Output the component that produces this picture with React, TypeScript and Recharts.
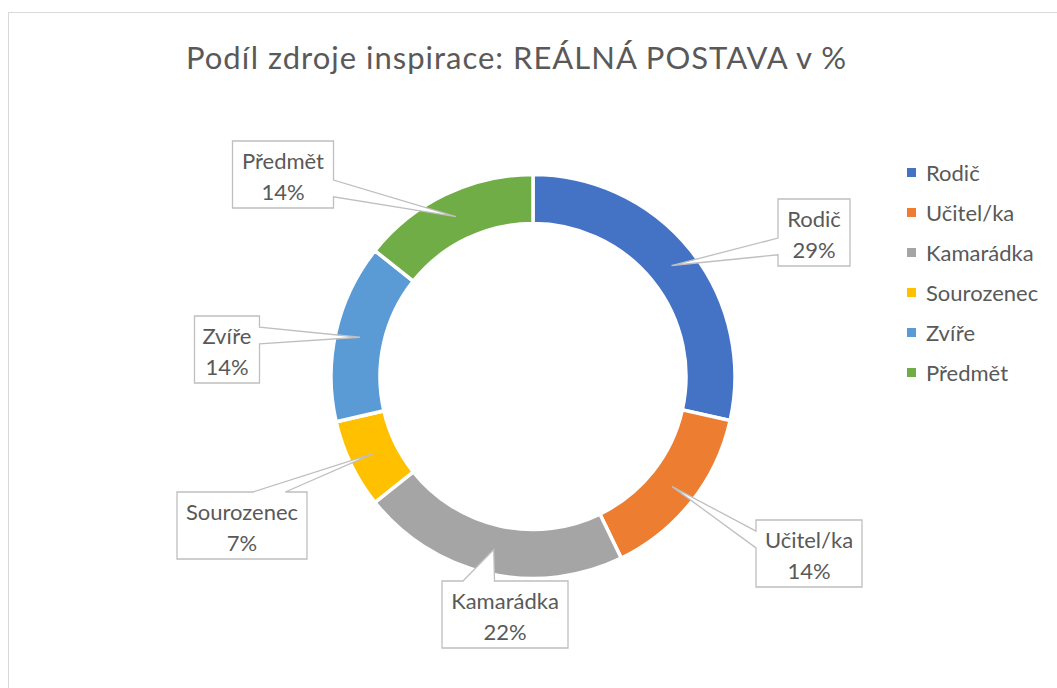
import { PieChart, Pie, Cell, Legend } from 'recharts';

const categories = ['Rodič', 'Učitel/ka', 'Kamarádka', 'Sourozenec', 'Zvíře', 'Předmět'];
const shares = [28.5, 14.3, 21.5, 7.1, 14.3, 14.3];
const colors = ['#4472C4', '#ED7D31', '#A5A5A5', '#FFC000', '#5B9BD5', '#70AD47'];

// callout box placement, relative to the pie centre
const calloutDx = [281, 276, -28, -291, -306, -250];
const calloutDy = [-144, 177, 238, 149, -27, -202];
const calloutW = [72, 106, 126, 130, 65, 101];
const CALLOUT_H = 67;

const FONT = 'Lato, sans-serif';
const TEXT = '#595959';

const data = categories.map((name, i) => ({ name, value: shares[i] }));

// eslint-disable-next-line @typescript-eslint/no-explicit-any
function CalloutLabel(props: any) {
  const { cx, cy, midAngle, innerRadius, outerRadius, index } = props;
  const RAD = Math.PI / 180;
  const r = (innerRadius + outerRadius) / 2;
  const px = cx + r * Math.cos(-midAngle * RAD);
  const py = cy + r * Math.sin(-midAngle * RAD);
  const w = calloutW[index];
  const h = CALLOUT_H;
  const bx = cx + calloutDx[index];
  const by = cy + calloutDy[index];
  const l = bx - w / 2;
  const t = by - h / 2;
  const rr = bx + w / 2;
  const b = by + h / 2;
  const dx = px - bx;
  const dy = py - by;
  const vertical = Math.abs(dy) > Math.abs((dx * h) / w);
  let d: string;
  if (vertical) {
    const x1 = l + (w * (dx > 0 ? 7 : 2)) / 12;
    const x2 = l + (w * (dx > 0 ? 10 : 5)) / 12;
    if (dy < 0) {
      d = `M${l},${t} L${x1},${t} L${px},${py} L${x2},${t} L${rr},${t} L${rr},${b} L${l},${b} Z`;
    } else {
      d = `M${l},${t} L${rr},${t} L${rr},${b} L${x2},${b} L${px},${py} L${x1},${b} L${l},${b} Z`;
    }
  } else {
    const y1 = t + (h * (dy > 0 ? 7 : 2)) / 12;
    const y2 = t + (h * (dy > 0 ? 10 : 5)) / 12;
    if (dx < 0) {
      d = `M${l},${t} L${rr},${t} L${rr},${b} L${l},${b} L${l},${y2} L${px},${py} L${l},${y1} Z`;
    } else {
      d = `M${l},${t} L${rr},${t} L${rr},${y1} L${px},${py} L${rr},${y2} L${rr},${b} L${l},${b} Z`;
    }
  }
  return (
    <g>
      <path d={d} fill="#fff" stroke="#BFBFBF" strokeWidth={1.3} />
      <text x={bx} y={t + 28} textAnchor="middle" fontFamily={FONT} fontSize={22} fill={TEXT}>
        {categories[index]}
      </text>
      <text x={bx} y={t + 59} textAnchor="middle" fontFamily={FONT} fontSize={22} fill={TEXT}>
        {Math.round(shares[index]) + '%'}
      </text>
    </g>
  );
}

function LegendList() {
  return (
    <div>
      {categories.map((name, i) => (
        <div key={name} style={{ height: 40, display: 'flex', alignItems: 'center' }}>
          <span style={{ width: 9, height: 9, background: colors[i], marginRight: 10 }} />
          <span style={{ fontFamily: FONT, fontSize: 22, color: TEXT }}>{name}</span>
        </div>
      ))}
    </div>
  );
}

export default function App() {
  return (
    <div style={{ position: 'fixed', left: 0, top: 0, width: 1057, height: 688, overflow: 'hidden', background: '#fff' }}>
      <div
        style={{
          position: 'absolute',
          left: 8,
          top: 12,
          width: 1100,
          height: 720,
          border: '1px solid #D9D9D9',
        }}
      />
      <svg width={1057} height={100} style={{ position: 'absolute', left: 0, top: 0 }}>
        <text
          x={516.5}
          y={69}
          textAnchor="middle"
          fontFamily={FONT}
          fontSize={31}
          letterSpacing={1}
          fill={TEXT}
        >
          Podíl zdroje inspirace: REÁLNÁ POSTAVA v %
        </text>
      </svg>
      <div style={{ position: 'absolute', left: 0, top: 0 }}>
        <PieChart width={1057} height={688} margin={{ top: 0, right: 0, bottom: 0, left: 0 }}>
          <Pie
            data={data}
            dataKey="value"
            nameKey="name"
            cx={533}
            cy={376.5}
            innerRadius={153}
            outerRadius={202}
            startAngle={90}
            endAngle={-270}
            stroke="#fff"
            strokeWidth={3.5}
            label={CalloutLabel}
            labelLine={false}
            isAnimationActive={false}
          >
            {data.map((entry, i) => (
              <Cell key={entry.name} fill={colors[i]} />
            ))}
          </Pie>
          <Legend
            layout="vertical"
            verticalAlign="top"
            align="right"
            wrapperStyle={{ left: 907, top: 152, width: 150 }}
            content={LegendList}
          />
        </PieChart>
      </div>
    </div>
  );
}
